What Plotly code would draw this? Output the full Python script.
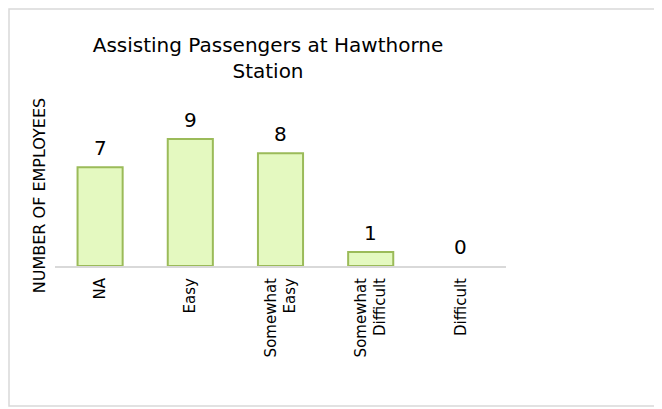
import plotly.graph_objects as go

categories = ["NA", "Easy", "Somewhat<br>Easy", "Somewhat<br>Difficult", "Difficult"]
employees = [7, 9, 8, 1, 0]

FONT = "Century Gothic, DejaVu Sans, sans-serif"

# page body has an 8px margin, so the figure is a bit smaller than the window
W, H = 654, 401
PL, PR, PT, PB = 47, 498, 117, 258  # plot area in figure pixels
pw, ph = PR - PL, PB - PT

fig = go.Figure()
fig.add_trace(
    go.Bar(
        x=categories,
        y=employees,
        marker=dict(
            color="#e4f9c0",
            line=dict(color="#9bbb59", width=[0 if v == 0 else 2 for v in employees]),
        ),
        width=0.5,
        showlegend=False,
        hoverinfo="x+y",
    )
)

# data labels above the bars
for cat, val in zip(categories, employees):
    fig.add_annotation(
        x=cat, y=val, text=str(val), showarrow=False,
        yanchor="bottom", yshift=5,
        font=dict(family=FONT, size=20, color="#000000"),
    )

fig.update_layout(
    width=W,
    height=H,
    margin=dict(l=PL, r=W - PR, t=PT, b=H - PB),
    paper_bgcolor="white",
    plot_bgcolor="white",
    font=dict(family=FONT, color="#000000"),
    title=dict(
        text="Assisting Passengers at Hawthorne<br>Station",
        x=260 / W,
        xanchor="center",
        xref="container",
        y=1 - 44 / H,
        yanchor="top",
        yref="container",
        font=dict(family=FONT, size=20, color="#000000"),
    ),
    xaxis=dict(
        tickangle=-90,
        tickfont=dict(family=FONT, size=15),
        ticklabelstandoff=4,
        showline=True,
        linecolor="#d9d9d9",
        linewidth=2,
        ticks="",
        showgrid=False,
    ),
    yaxis=dict(
        range=[0, 10],
        showticklabels=False,
        showgrid=False,
        zeroline=False,
        ticks="",
        title=dict(text="NUMBER OF EMPLOYEES", font=dict(family=FONT, size=16), standoff=4),
    ),
    shapes=[
        dict(
            type="rect", xref="paper", yref="paper",
            x0=(1 - PL) / pw, x1=(653 - PL) / pw,
            y0=-(398 - PB) / ph, y1=(PB - 1) / ph,
            line=dict(color="#d9d9d9", width=1.5),
            layer="below",
        )
    ],
)

fig.write_html("out.html")
